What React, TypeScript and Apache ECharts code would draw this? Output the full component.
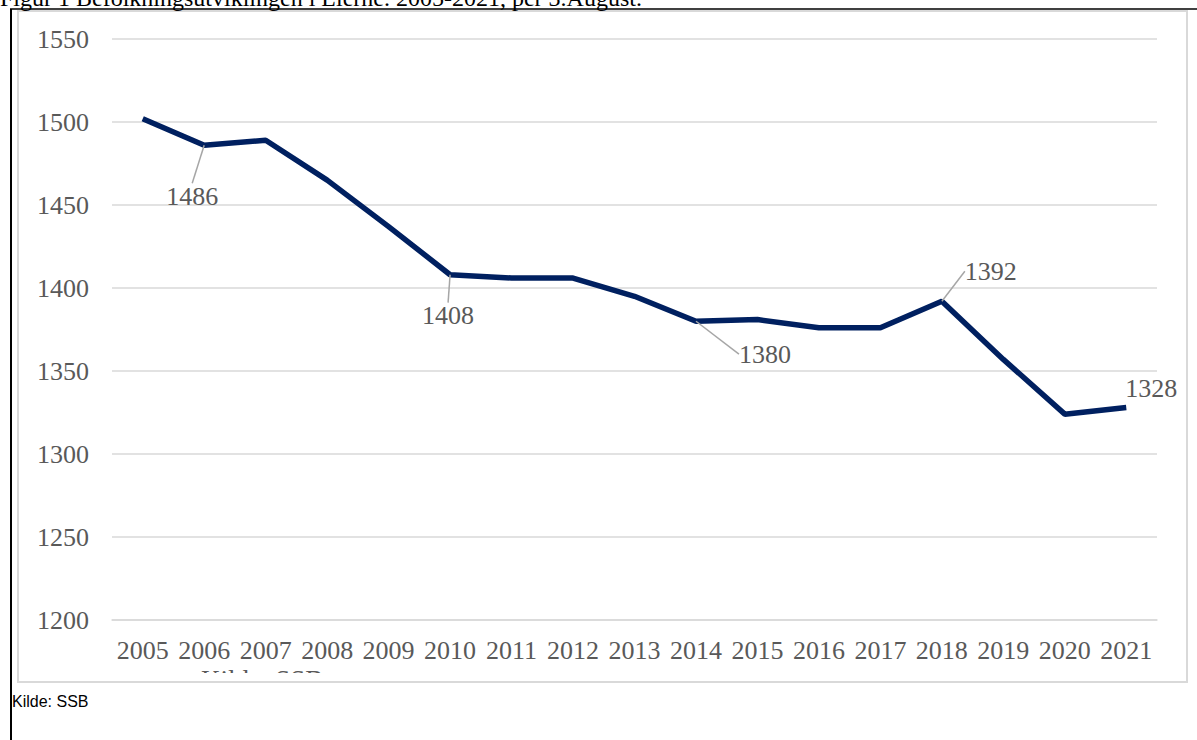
import React, { useEffect, useRef } from "react";
import * as echarts from "echarts";

const years = ["2005", "2006", "2007", "2008", "2009", "2010", "2011", "2012", "2013", "2014", "2015", "2016", "2017", "2018", "2019", "2020", "2021"];
const population = [1502, 1486, 1489, 1465, 1437, 1408, 1406, 1406, 1395, 1380, 1381, 1376, 1376, 1392, 1357, 1324, 1328];
const labeledYears = ["2006", "2010", "2014", "2018", "2021"];
const yMin = 1200;
const yMax = 1550;
const yInterval = 50;
const titleText = "Figur 1 Befolkningsutviklingen i Lierne. 2005-2021, per 3.August.";
const sourceText = "Kilde: SSB";

// label offsets (style) relative to default 'top' placement
const labelOffsets: Record<string, { dx: number; dy: number; line: boolean }> = {
  "2006": { dx: -12, dy: 69, line: true },
  "2010": { dx: -2, dy: 59, line: true },
  "2014": { dx: 69, dy: 51, line: true },
  "2018": { dx: 49, dy: -12, line: true },
  "2021": { dx: 25, dy: -1, line: false },
};

const SERIF = "'Liberation Serif', 'Times New Roman', serif";
const GREY = "#595959";

export default function App() {
  const ref = useRef<HTMLDivElement>(null);
  useEffect(() => {
    if (!ref.current) return;
    const chart = echarts.init(ref.current, null, { renderer: "svg" });
    const data = population.map((v, i) => {
      const yr = years[i];
      if (labeledYears.includes(yr)) {
        const o = labelOffsets[yr];
        return {
          value: v,
          label: { show: true },
          labelLine: { show: o.line },
        };
      }
      return { value: v };
    });
    chart.setOption({
      animation: false,
      backgroundColor: "#ffffff",
      grid: { left: 112, right: 40, top: 39, bottom: 120 },
      xAxis: {
        type: "category",
        data: years,
        boundaryGap: true,
        axisLine: { show: true, lineStyle: { color: "#d9d9d9", width: 1.5 } },
        axisTick: { show: false },
        axisLabel: { color: GREY, fontFamily: SERIF, fontSize: 26, margin: 17, interval: 0 },
      },
      yAxis: {
        type: "value",
        min: yMin,
        max: yMax,
        interval: yInterval,
        axisLine: { show: false },
        axisTick: { show: false },
        axisLabel: {
          color: GREY,
          fontFamily: SERIF,
          fontSize: 26,
          margin: 23,
          formatter: (v: number) => String(v),
        },
        splitLine: { lineStyle: { color: "#d9d9d9", width: 1.5 } },
      },
      series: [
        {
          type: "line",
          data,
          symbol: "circle",
          symbolSize: 0.1,
          showSymbol: true,
          lineStyle: { color: "#002060", width: 5.5 },
          itemStyle: { color: "#002060" },
          label: {
            show: false,
            position: "top",
            color: GREY,
            fontFamily: SERIF,
            fontSize: 26,
          },
          labelLine: {
            show: false,
            lineStyle: { color: "#a6a6a6", width: 1.5 },
          },
          labelLayout: (params: any) => {
            const yr = years[params.dataIndex];
            const o = labelOffsets[yr];
            if (!o) return {};
            return { dx: o.dx, dy: o.dy };
          },
        },
      ],
      graphic: [
        {
          type: "text",
          x: 0,
          y: -14,
          z: 10,
          style: { text: titleText, font: `24px ${SERIF}`, fill: "#000" },
        },
        {
          type: "text",
          x: 201,
          y: 666,
          z: 1,
          style: { text: sourceText, font: `27px ${SERIF}`, fill: GREY },
        },
        {
          type: "rect",
          z: 2,
          shape: { x: 150, y: 673, width: 260, height: 40 },
          style: { fill: "#ffffff" },
        },
        {
          type: "rect",
          z: 3,
          shape: { x: 18, y: 11, width: 1169, height: 671 },
          style: { fill: "none", stroke: "#d9d9d9", lineWidth: 2 },
        },
        {
          type: "line",
          z: 4,
          shape: { x1: 11, y1: 9, x2: 11, y2: 740 },
          style: { stroke: "#000", lineWidth: 2 },
        },
        {
          type: "line",
          z: 4,
          shape: { x1: 10, y1: 9, x2: 1197, y2: 9 },
          style: { stroke: "#000", lineWidth: 1.5 },
        },
        {
          type: "text",
          x: 12,
          y: 693,
          z: 5,
          style: { text: sourceText, font: "16px 'Liberation Sans', Arial, sans-serif", fill: "#000" },
        },
      ],
    });
    return () => chart.dispose();
  }, []);
  return (
    <div
      ref={ref}
      style={{ position: "fixed", left: 0, top: 0, width: 1197, height: 740 }}
    />
  );
}
